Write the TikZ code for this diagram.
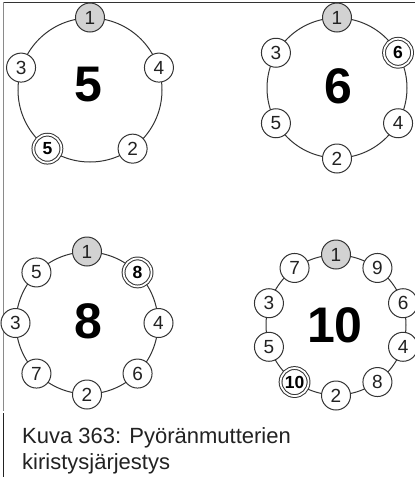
\documentclass[tikz,border=0pt]{standalone}
\usepackage{fontspec}
\setmainfont{Liberation Sans}
\definecolor{ln}{HTML}{333333}
\definecolor{nutgray}{HTML}{D2D2D2}
\definecolor{frame}{HTML}{8A8A8A}
\definecolor{txt}{HTML}{222222}
\begin{document}
\begin{tikzpicture}[x=1pt,y=-1pt,
  ring/.style={circle,draw=ln,line width=1pt,inner sep=0pt},
  nut/.style={circle,draw=ln,fill=white,line width=1pt,minimum size=29pt,inner sep=0pt,text=txt,font=\fontsize{19}{19}\selectfont},
  firstnut/.style={nut,fill=nutgray},
  lastnut/.style={nut,double=white,double distance=1.8pt,minimum size=28pt,text=black,font=\fontsize{17.5}{17.5}\selectfont\bfseries},
  bignum/.style={inner sep=0pt,font=\fontsize{50}{50}\selectfont\bfseries},
  caption/.style={anchor=base west,inner sep=0pt,text=txt,font=\fontsize{22}{22}\selectfont}]
\useasboundingbox (0,0) rectangle (415,477);
\fill[white] (0,0) rectangle (415,477);
% frame
\coordinate (fa) at (3,2);
\coordinate (fb) at (415,2);
\coordinate (fc) at (3,411);
\coordinate (fd) at (3.5,413);
\coordinate (fe) at (3.5,477);
\draw[ln,line width=1pt] (fa) -- (fb);
\draw[frame,line width=0.8pt] (fa) -- (fc);
\draw[txt,line width=1.1pt] (fd) -- (fe);

% ---- 5 nuts
\node[ring,minimum size=144pt] (ra) at (90,90) {};
\node[bignum] (na) at (88,85) {5};
\node[firstnut] (a1) at (ra.90) {1};
\node[nut] (a4) at (ra.18) {4};
\node[nut] (a2) at (ra.-54) {2};
\node[lastnut] (a5) at (ra.-126) {5};
\node[nut] (a3) at (ra.162) {3};

% ---- 6 nuts
\node[ring,minimum size=140pt] (rb) at (337,88) {};
\node[bignum] (nb) at (338,86) {6};
\node[firstnut] (b1) at (rb.90) {1};
\node[lastnut] (b6) at (rb.30) {6};
\node[nut] (b4) at (rb.-30) {4};
\node[nut] (b2) at (rb.-90) {2};
\node[nut] (b5) at (rb.-150) {5};
\node[nut] (b3) at (rb.150) {3};

% ---- 8 nuts
\node[ring,minimum size=142pt] (rc) at (87,323) {};
\node[bignum] (nc) at (88,321) {8};
\node[firstnut] (c1) at (rc.90) {1};
\node[lastnut] (c8) at (rc.45) {8};
\node[nut] (c4) at (rc.0) {4};
\node[nut] (c6) at (rc.-45) {6};
\node[nut] (c2) at (rc.-90) {2};
\node[nut] (c7) at (rc.-135) {7};
\node[nut] (c3) at (rc.180) {3};
\node[nut] (c5) at (rc.135) {5};

% ---- 10 nuts
\node[ring,minimum size=140pt] (rd) at (336,325) {};
\node[bignum] (nd) at (335,325) {10};
\node[firstnut] (d1) at (rd.90) {1};
\node[nut] (d9) at (rd.54) {9};
\node[nut] (d6) at (rd.18) {6};
\node[nut] (d4) at (rd.-18) {4};
\node[nut] (d8) at (rd.-54) {8};
\node[nut] (d2) at (rd.-90) {2};
\node[lastnut] (d10) at (rd.-126) {10};
\node[nut] (d5) at (rd.-162) {5};
\node[nut] (d3) at (rd.162) {3};
\node[nut] (d7) at (rd.126) {7};

% caption
\node[caption] (cap1) at (22,443) {Kuva 363: Pyöränmutterien};
\node[caption] (cap2) at (22,469) {kiristysjärjestys};
\end{tikzpicture}
\end{document}
